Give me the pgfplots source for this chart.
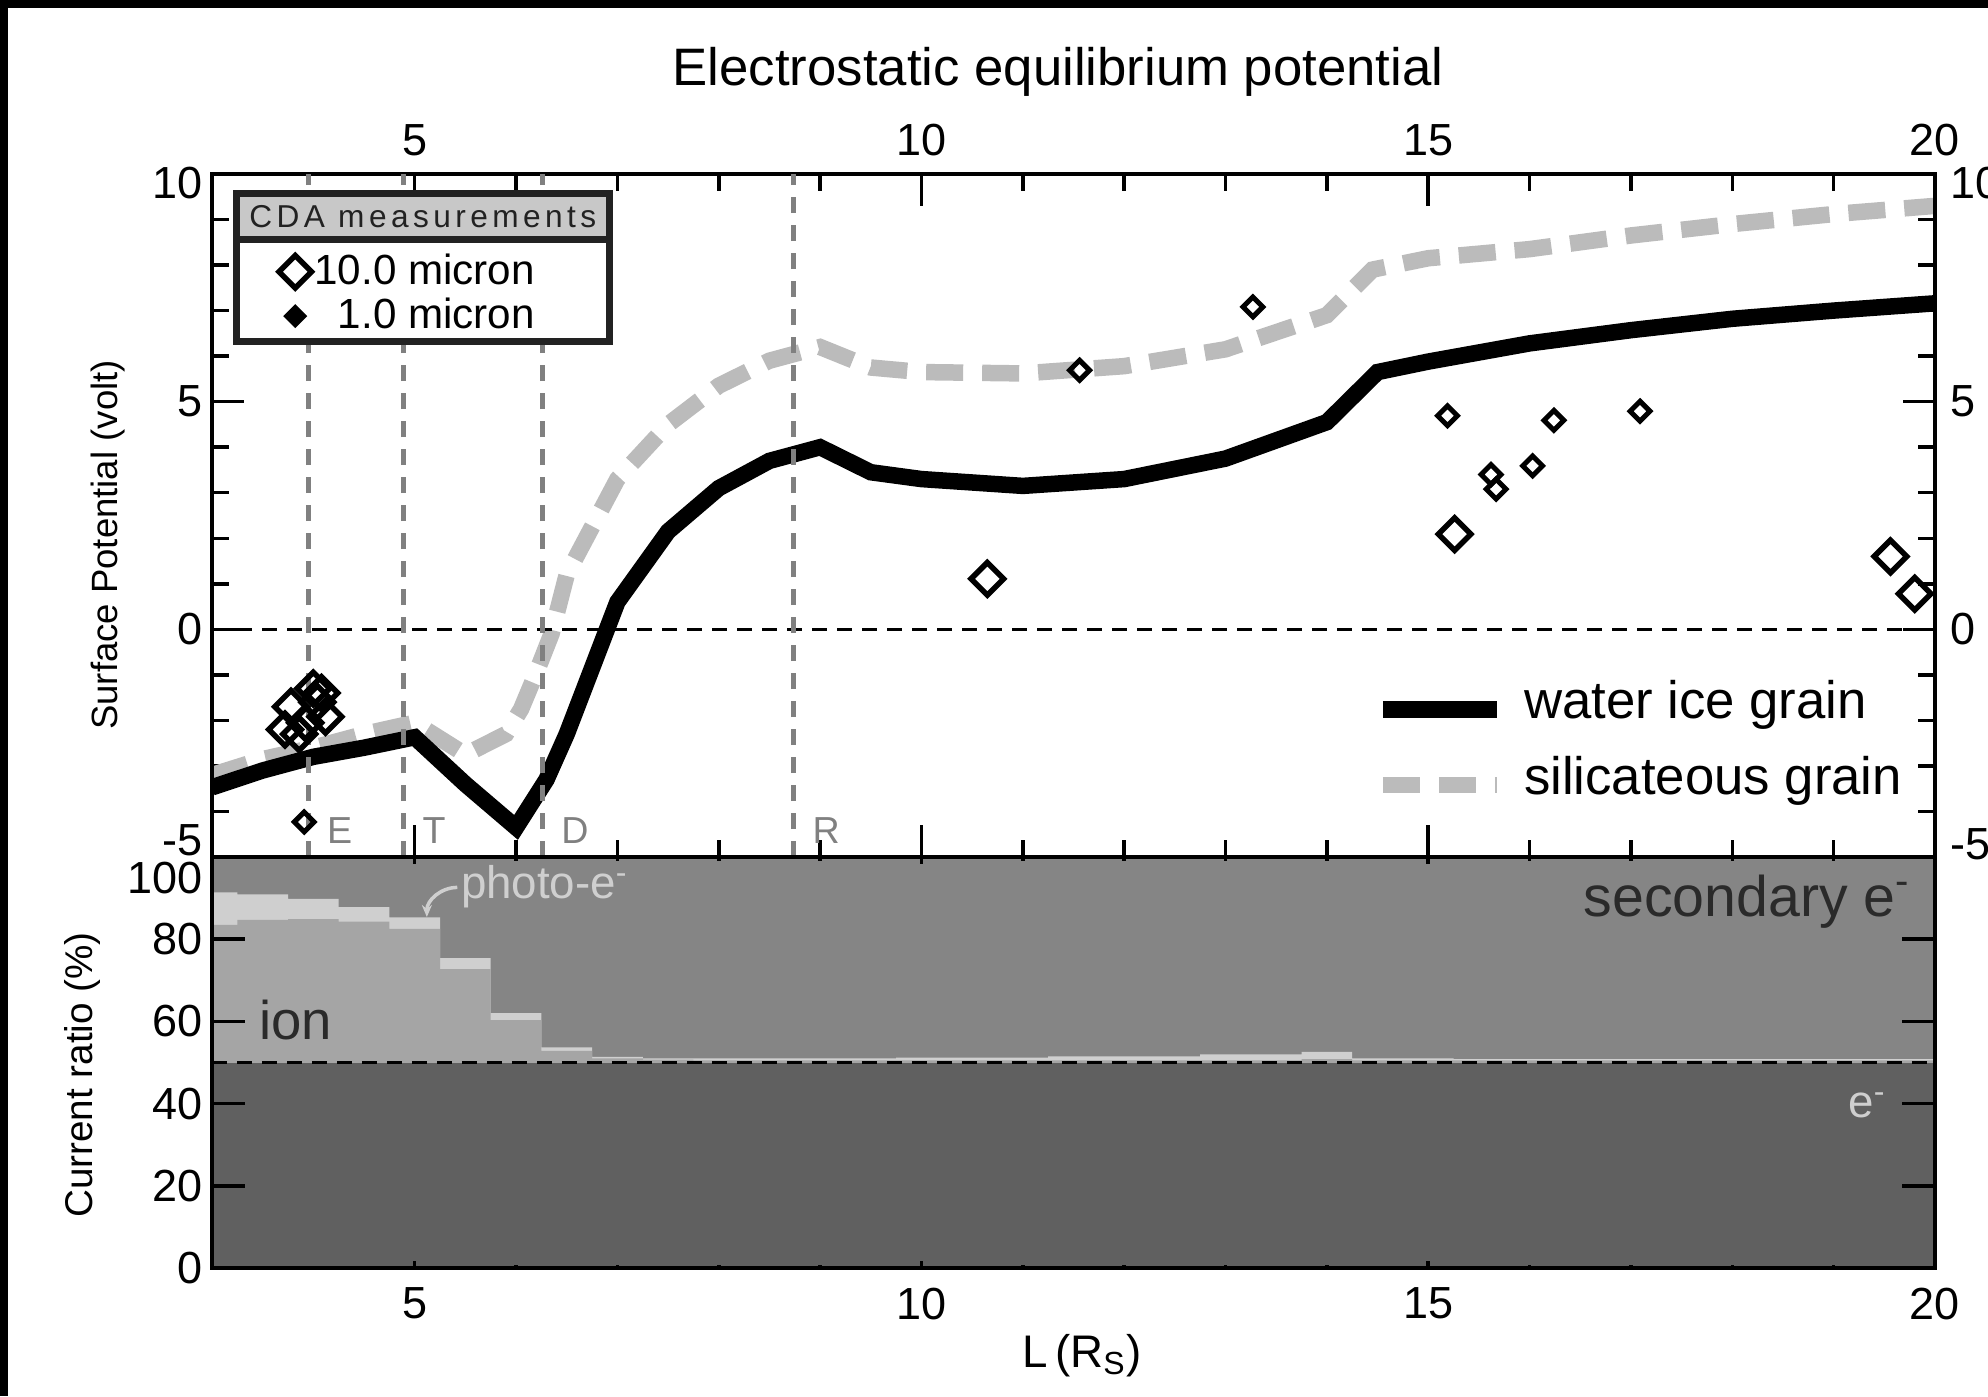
\documentclass[border=0pt]{standalone}
\usepackage{pgfplots}
\pgfplotsset{compat=1.18}
\usepackage{fontspec}
\setmainfont{Liberation Sans}
\usetikzlibrary{arrows.meta}
\definecolor{secc}{HTML}{858585}
\definecolor{ionc}{HTML}{A5A5A5}
\definecolor{phoc}{HTML}{CFCFCF}
\definecolor{elec}{HTML}{606060}
\definecolor{silc}{HTML}{BBBBBB}
\definecolor{vlin}{HTML}{808080}
\definecolor{boxc}{HTML}{222222}
\definecolor{hdrc}{HTML}{C8C8C8}
\definecolor{dtxt}{HTML}{2A2A2A}
\newcommand{\tfont}{\fontsize{12.8}{14}\selectfont}

\begin{document}
\begin{tikzpicture}
\pgfplotsset{
  myax/.style={scale only axis, width=17.23cm, xmin=3, xmax=20,
    axis line style={line width=0.035cm},
    tick style={line width=0.035cm, black},
    tick align=inside,
    /pgf/number format/assume math mode=true,
    tick label style={font=\tfont}},
}
% black frame of the scan
\fill[black] (0cm,13.88cm) rectangle (19.88cm,13.96cm);
\fill[black] (0cm,0cm) rectangle (0.08cm,13.96cm);

% ---------------- upper panel ----------------
\begin{axis}[myax, at={(2.12cm,5.39cm)}, anchor=south west, height=6.83cm,
  ymin=-5, ymax=10,
  xtick={5,10,15,20}, xticklabels={5,10,15,20}, minor x tick num=4,
  xticklabel pos=right,
  ytick={-5,0,5,10},
  yticklabels={\smash{\raisebox{0.02cm}{-5}},0,5,\smash{\raisebox{-0.25cm}{10}}},
  minor y tick num=4, yticklabel pos=left,
  major tick length=0.32cm, minor tick length=0.17cm,
  xticklabel style={inner sep=0pt, yshift=0.17cm},
  yticklabel style={inner sep=0pt, xshift=-0.09cm},
  reverse legend, legend cell align=left,
  legend style={at={(axis cs:14.36,-1.24)}, anchor=north west, draw=none, fill=none,
    font=\fontsize{15}{17}\selectfont, row sep=0.43cm, column sep=0.19cm,
    nodes={inner sep=0pt, text height=0.72em, text depth=0.2em}},
  legend image code/.code={\draw[#1] (0cm,0em) -- (1.14cm,0em);},
]
\addplot[silc, line width=0.165cm, dash pattern=on 0.37cm off 0.19cm] coordinates {
(3.0,-3.2) (3.5,-2.85) (4.0,-2.6) (4.5,-2.3) (5.0,-2.05) (5.5,-2.75) (5.9,-2.3)
(6.05,-1.75) (6.2,-0.95) (6.35,-0.1) (6.5,1.2) (7.0,3.3) (7.5,4.5) (8.0,5.35)
(8.5,5.9) (9.0,6.2) (9.5,5.75) (10.0,5.65) (11.0,5.62) (12.0,5.78) (13.0,6.15)
(14.0,6.9) (14.45,7.9) (15.0,8.15) (16.0,8.35) (17.0,8.65) (18.0,8.9) (19.0,9.12) (20.0,9.3)};
\addlegendentry{silicateous grain}
\addplot[black, line width=0.165cm] coordinates {
(3.0,-3.47) (3.5,-3.1) (4.0,-2.8) (4.5,-2.6) (5.0,-2.37) (5.5,-3.4) (6.0,-4.35)
(6.3,-3.3) (6.5,-2.3) (7.0,0.6) (7.5,2.15) (8.0,3.1) (8.5,3.7) (9.0,4.0)
(9.5,3.45) (10.0,3.3) (11.0,3.15) (12.0,3.3) (13.0,3.75) (14.0,4.55) (14.5,5.65)
(15.0,5.88) (16.0,6.28) (17.0,6.57) (18.0,6.82) (19.0,7.0) (20.0,7.16)};
\addlegendentry{water ice grain}
% CDA measurements
\addplot[forget plot, only marks, mark=square, mark size=0.115cm,
  mark options={rotate=45, line width=0.055cm, black}] coordinates {
(3.72,-2.2) (3.78,-1.7) (3.86,-2.3) (3.92,-2.05) (4.0,-1.3) (4.04,-1.6)
(4.08,-1.4) (4.12,-1.92) (10.65,1.11) (15.26,2.09) (19.56,1.6) (19.8,0.78)};
\addplot[forget plot, only marks, mark=square, mark size=0.07cm,
  mark options={rotate=45, line width=0.05cm, black}] coordinates {
(3.91,-4.23) (11.56,5.69) (13.27,7.08) (15.19,4.69) (15.62,3.4) (15.67,3.08)
(16.03,3.59) (16.24,4.59) (17.09,4.79)};
% zero line
\addplot[forget plot, black, line width=0.035cm, dash pattern=on 0.15cm off 0.1cm]
  coordinates {(3,0) (20,0)};
% moon orbits
\addplot[forget plot, vlin, line width=0.05cm, dash pattern=on 0.16cm off 0.12cm]
  coordinates {(3.95,-5) (3.95,10)};
\addplot[forget plot, vlin, line width=0.05cm, dash pattern=on 0.16cm off 0.12cm]
  coordinates {(4.89,-5) (4.89,10)};
\addplot[forget plot, vlin, line width=0.05cm, dash pattern=on 0.16cm off 0.12cm]
  coordinates {(6.26,-5) (6.26,10)};
\addplot[forget plot, vlin, line width=0.05cm, dash pattern=on 0.16cm off 0.12cm]
  coordinates {(8.74,-5) (8.74,10)};
\node[anchor=base west, inner sep=0pt, text=vlin, font=\fontsize{10.7}{12}\selectfont] at (axis cs:4.13,-4.71) {E};
\node[anchor=base west, inner sep=0pt, text=vlin, font=\fontsize{10.7}{12}\selectfont] at (axis cs:5.07,-4.71) {T};
\node[anchor=base west, inner sep=0pt, text=vlin, font=\fontsize{10.7}{12}\selectfont] at (axis cs:6.44,-4.71) {D};
\node[anchor=base west, inner sep=0pt, text=vlin, font=\fontsize{10.7}{12}\selectfont] at (axis cs:8.92,-4.71) {R};
\end{axis}

% ---------------- overlay: right labels and CDA legend box ----------------
\begin{axis}[myax, at={(2.12cm,5.39cm)}, anchor=south west, height=6.83cm,
  ymin=-5, ymax=10, hide x axis, clip=false,
  ytick={-5,0,5,10},
  yticklabels={\smash{\raisebox{-0.02cm}{-5}},0,5,\smash{\raisebox{-0.245cm}{10}}},
  minor y tick num=4, ytick pos=right, yticklabel pos=right,
  major tick length=0.32cm, minor tick length=0.17cm,
  yticklabel style={inner sep=0pt, xshift=0.15cm},
  legend style={at={(axis cs:3.55,8.38)}, anchor=north west, draw=none, fill=none,
    font=\fontsize{12}{13}\selectfont, row sep=0.12cm, column sep=0.03cm,
    nodes={inner sep=0pt, text height=0.72em, text depth=0.2em}},
  legend cell align=right,
  legend image code/.code={\draw[#1] plot coordinates {(0cm,0.1em)};},
]
\filldraw[fill=white, draw=boxc, line width=0.07cm] (axis cs:3.241,6.32) rectangle (axis cs:6.92,9.57);
\fill[hdrc] (axis cs:3.241,8.57) rectangle (axis cs:6.92,9.57);
\draw[boxc, line width=0.07cm] (axis cs:3.241,6.32) rectangle (axis cs:6.92,9.57);
\draw[boxc, line width=0.07cm] (axis cs:3.241,8.57) -- (axis cs:6.92,8.57);
\node[font=\fontsize{9}{10}\selectfont\addfontfeature{LetterSpace=14}, text=boxc] at (axis cs:5.08,9.07) {CDA measurements};
\addlegendimage{only marks, mark=square, mark size=0.115cm, mark options={rotate=45, line width=0.055cm, black}}
\addlegendentry{10.0 micron}
\addlegendimage{only marks, mark=square*, mark size=0.07cm, mark options={rotate=45, line width=0.03cm, black, fill=black}}
\addlegendentry{1.0 micron}
\end{axis}

% ---------------- lower panel ----------------
\begin{axis}[myax, at={(2.12cm,1.28cm)}, anchor=south west, height=4.11cm,
  ymin=0, ymax=100, axis on top,
  xtick={5,10,15,20}, xticklabels={5,10,15,20}, minor x tick num=4,
  ytick={0,20,40,60,80,100},
  yticklabels={0,20,40,60,80,\smash{\raisebox{-0.36cm}{100}}},
  major tick length=0.33cm, minor tick length=0.17cm,
  xtick style={/pgfplots/major tick length=0.07cm, /pgfplots/minor tick length=0.035cm},
  xticklabel style={inner sep=0pt, yshift=-0.19cm},
  yticklabel style={inner sep=0pt, xshift=-0.09cm},
]
\addplot[draw=none, fill=secc] coordinates {(3,100) (20,100)} \closedcycle;
\addplot[const plot, draw=none, fill=phoc] coordinates {
(3,91.4) (3.25,90.9) (3.75,89.8) (4.25,87.8) (4.75,85.3) (5.25,75.4) (5.75,62.0)
(6.25,53.7) (6.75,51.4) (7.25,51.0) (7.75,51.0) (9.75,51.2) (11.25,51.5)
(12.75,52.0) (13.75,52.6) (14.25,51.0) (15.25,50.8) (20,50.8)} \closedcycle;
\addplot[const plot, draw=none, fill=ionc] coordinates {
(3,83.5) (3.25,84.7) (3.75,84.9) (4.25,84.3) (4.75,82.5) (5.25,72.7) (5.75,60.3)
(6.25,52.8) (6.75,51.0) (7.25,50.7) (7.75,50.5) (13.75,50.8) (14.25,50.5) (20,50.5)} \closedcycle;
\addplot[draw=none, fill=elec] coordinates {(3,50) (20,50)} \closedcycle;
\addplot[black, line width=0.035cm, dash pattern=on 0.15cm off 0.1cm] coordinates {(3,50) (20,50)};
\node[anchor=base east, inner sep=0pt, text=dtxt, font=\fontsize{16.3}{18}\selectfont] at (axis cs:19.77,85.5) {secondary e\textsuperscript{-}};
\node[anchor=base west, inner sep=0pt, text=dtxt, font=\fontsize{15.5}{17}\selectfont] at (axis cs:3.46,55.7) {ion};
\node[anchor=base west, inner sep=0pt, text=phoc, font=\fontsize{13}{15}\selectfont] at (axis cs:5.45,89.8) {photo-e\textsuperscript{-}};
\node[anchor=base west, inner sep=0pt, text=phoc, font=\fontsize{13}{15}\selectfont] at (axis cs:19.14,36.5) {e\textsuperscript{-}};
\draw[phoc, line width=0.035cm, -{Stealth[length=0.12cm, width=0.1cm]}] (axis cs:5.42,92.6) to[out=180, in=90] (axis cs:5.12,85.4);
\end{axis}

% titles and axis labels
\node[anchor=base, font=\fontsize{15}{17}\selectfont] at (10.58cm,13.10cm) {Electrostatic equilibrium potential};
\node[rotate=90, font=\fontsize{10.4}{12}\selectfont] at (1.08cm,8.51cm) {Surface Potential (volt)};
\node[rotate=90, font=\fontsize{11}{12}\selectfont] at (0.82cm,3.21cm) {Current ratio (\%)};
\node[anchor=base, font=\fontsize{13}{15}\selectfont] at (10.82cm,0.29cm) {L\,(R\textsubscript{S})};

\pgfresetboundingbox
\useasboundingbox (0cm,0cm) rectangle (19.88cm,13.96cm);
\end{tikzpicture}
\end{document}
